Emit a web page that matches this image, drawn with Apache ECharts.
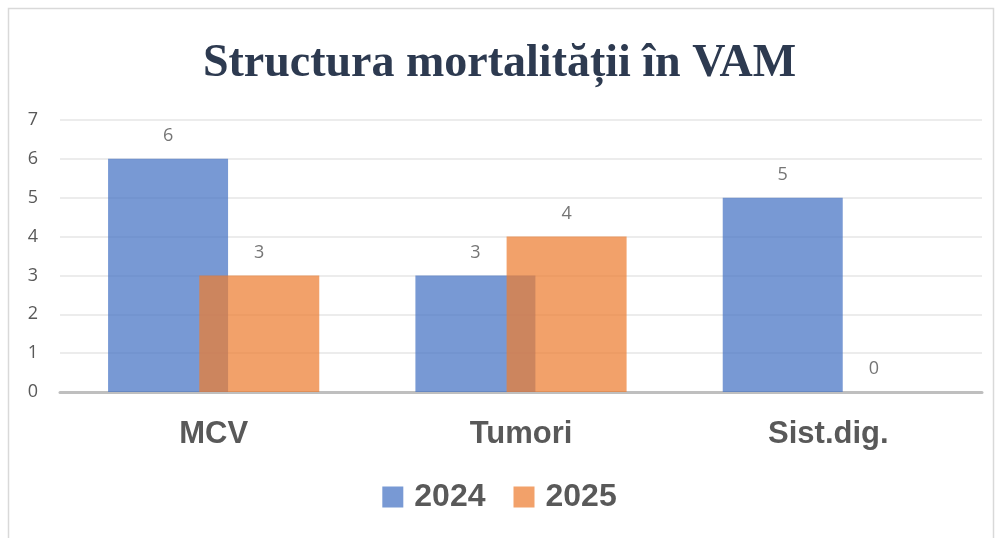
<!DOCTYPE html>
<html><head><meta charset="utf-8">
<script src="https://cdn.jsdelivr.net/npm/echarts@6/dist/echarts.min.js"></script>
<style>html,body{margin:0;padding:0;background:#fff}#c{width:999px;height:538px}</style>
</head><body><div id="c"></div>
<script>
const categories = ['MCV', 'Tumori', 'Sist.dig.'];
const series2024 = [6, 3, 5];
const series2025 = [3, 4, 0];
const seriesNames = ['2024', '2025'];
const titleText = 'Structura mortalității în VAM';

const chart = echarts.init(document.getElementById('c'), null, {renderer: 'canvas'});
const labelStyle = {show: true, position: 'top', distance: 14, color: '#404040', fontSize: 18, fontFamily: 'Open Sans'};
chart.setOption({
  animation: false,
  title: {text: titleText, left: 'center', top: 36,
    textStyle: {fontFamily: 'Liberation Serif', fontWeight: 'bold', fontSize: 46, color: '#2d3a50'}},
  graphic: [{type: 'rect', shape: {x: 8.5, y: 8.5, width: 985, height: 540}, style: {fill: 'none', stroke: '#d9d9d9', lineWidth: 1.5}}],
  legend: {bottom: 20, left: 'center', itemWidth: 21, itemHeight: 21, itemGap: 28,
    icon: 'rect', textStyle: {fontSize: 32, fontWeight: 'bold', color: '#595959', fontFamily: 'Liberation Sans', padding: [0, 0, 0, 6]}},
  grid: {left: 60, right: 17, top: 120, bottom: 146},
  xAxis: {type: 'category', data: categories,
    axisLine: {lineStyle: {color: '#bfbfbf', width: 3}}, axisTick: {show: false},
    axisLabel: {fontSize: 31, fontWeight: 'bold', color: '#595959', margin: 27, fontFamily: 'Liberation Sans'}},
  yAxis: {type: 'value', min: 0, max: 7, interval: 1,
    axisLine: {show: false}, axisTick: {show: false},
    splitLine: {lineStyle: {color: '#ececec', width: 2}},
    axisLabel: {fontSize: 18, color: '#595959', margin: 22, fontFamily: 'Open Sans'}},
  series: [
    {name: seriesNames[0], type: 'bar', data: series2024, barWidth: 120, barGap: '-24%',
      itemStyle: {color: '#4472C4', opacity: 0.72}, label: labelStyle},
    {name: seriesNames[1], type: 'bar', data: series2025, barWidth: 120,
      itemStyle: {color: '#ED7D31', opacity: 0.72}, label: labelStyle}
  ]
});
</script></body></html>
